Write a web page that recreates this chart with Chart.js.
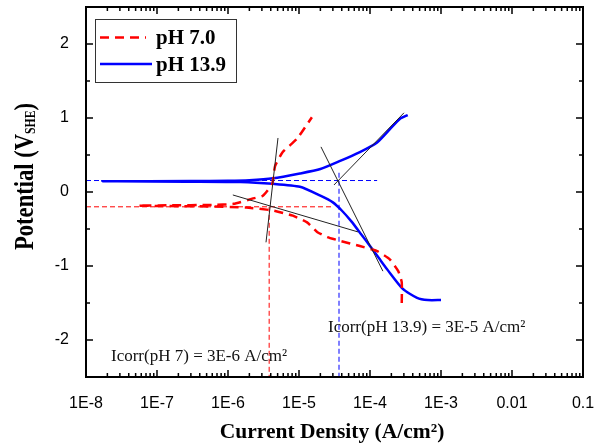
<!DOCTYPE html>
<html lang="en">
<head>
    <meta charset="UTF-8">
    <title>Polarization curves</title>
    <script src="https://cdn.jsdelivr.net/npm/chart.js"></script>
    <style>
        body { margin: 0; background: #fff; }
    </style>
</head>
<body>
    <canvas id="tafelChart" width="602" height="445"></canvas>

    <script>
        // axis ticks
        const xTicks = [1e-8, 1e-7, 1e-6, 1e-5, 1e-4, 1e-3, 1e-2, 1e-1];
        const xTickLabels = ['1E-8', '1E-7', '1E-6', '1E-5', '1E-4', '1E-3', '0.01', '0.1'];
        const yTicks = [-2, -1, 0, 1, 2];
        const yMinorTicks = [-1.5, -0.5, 0.5, 1.5];

        // pH 7.0 scan (current density A/cm2, potential V SHE)
        const ph7Current = [2.8e-4, 2.8e-4, 2.5e-4, 1.9e-4, 1.26e-4, 7.2e-5, 3.8e-5, 2.5e-5, 1.8e-5, 1.3e-5, 8.2e-6, 4.3e-6, 1.8e-6, 5e-7, 1.5e-7, 5.4e-8, 1.5e-7, 6e-7, 1.2e-6, 2.2e-6, 3.1e-6, 4.2e-6, 4.6e-6, 5.9e-6, 9.4e-6, 1.52e-5];
        const ph7Potential = [-1.50, -1.22, -1.07, -0.91, -0.80, -0.73, -0.66, -0.61, -0.54, -0.41, -0.32, -0.25, -0.21, -0.195, -0.19, -0.185, -0.18, -0.175, -0.16, -0.09, -0.05, 0.11, 0.35, 0.54, 0.72, 1.01];

        // pH 13.9 scan
        const ph139Current = [1.0e-3, 6.5e-4, 4.6e-4, 2.9e-4, 1.73e-4, 1.35e-4, 1.0e-4, 7.5e-5, 5.5e-5, 4.0e-5, 3.0e-5, 2.0e-5, 1.03e-5, 4.3e-6, 1.5e-6, 3e-7, 1.7e-8, 3e-7, 1.0e-6, 2.0e-6, 4.3e-6, 1.03e-5, 2.0e-5, 3.8e-5, 7.2e-5, 1.26e-4, 1.91e-4, 2.65e-4, 3.4e-4];
        const ph139Potential = [-1.46, -1.46, -1.43, -1.31, -1.04, -0.90, -0.73, -0.57, -0.40, -0.25, -0.14, -0.05, 0.07, 0.11, 0.135, 0.14, 0.145, 0.148, 0.152, 0.16, 0.185, 0.25, 0.31, 0.42, 0.54, 0.67, 0.85, 0.99, 1.04];

        // Tafel extrapolation lines [current, potential]
        const tafelPh7Anodic = [[5.06e-6, 0.73], [3.43e-6, -0.68]];
        const tafelPh7Cathodic = [[1.17e-6, -0.04], [6.8e-5, -0.54]];
        const tafelPh139Cathodic = [[2.04e-5, 0.61], [1.52e-4, -1.07]];
        const tafelPh139Anodic = [[3.11e-5, 0.095], [3.01e-4, 1.07]];

        // Ecorr / Icorr guide lines
        const ph7EcorrGuide = [[1e-8, -0.2], [2.9e-5, -0.2]];
        const ph7IcorrGuide = [[3.8e-6, -0.2], [3.8e-6, -2.5]];
        const ph139EcorrGuide = [[1e-8, 0.155], [1.26e-4, 0.155]];
        const ph139IcorrGuide = [[3.66e-5, 0.26], [3.66e-5, -2.5]];

        const toPoints = (xs, ys) => xs.map((x, i) => ({ x: x, y: ys[i] }));
        const pairPoints = (p) => p.map(d => ({ x: d[0], y: d[1] }));

        function guide(points, color) {
            return {
                data: pairPoints(points), showLine: true, borderColor: color,
                borderWidth: 1, borderDash: [5, 3], pointRadius: 0, tension: 0
            };
        }
        function tafel(points) {
            return {
                data: pairPoints(points), showLine: true, borderColor: '#222',
                borderWidth: 1, pointRadius: 0, tension: 0
            };
        }

        const decor = {
            id: 'decor',
            afterDraw(chart) {
                const ctx = chart.ctx;
                const a = chart.chartArea;
                const xs = chart.scales.x, ys = chart.scales.y;
                ctx.save();

                // inward ticks on all four sides
                ctx.strokeStyle = '#000';
                ctx.lineWidth = 1.5;
                ctx.beginPath();
                for (let d = -8; d < -1; d++) {
                    for (let m = 1; m < 10; m++) {
                        const px = xs.getPixelForValue(m * Math.pow(10, d));
                        const len = m === 1 ? 7 : 4;
                        ctx.moveTo(px, a.bottom); ctx.lineTo(px, a.bottom - len);
                        ctx.moveTo(px, a.top); ctx.lineTo(px, a.top + len);
                    }
                }
                const xEnd = xs.getPixelForValue(0.1);
                ctx.moveTo(xEnd, a.bottom); ctx.lineTo(xEnd, a.bottom - 7);
                ctx.moveTo(xEnd, a.top); ctx.lineTo(xEnd, a.top + 7);
                yTicks.concat(yMinorTicks).forEach(v => {
                    const py = ys.getPixelForValue(v);
                    const len = yTicks.includes(v) ? 7 : 4;
                    ctx.moveTo(a.left, py); ctx.lineTo(a.left + len, py);
                    ctx.moveTo(a.right, py); ctx.lineTo(a.right - len, py);
                });
                ctx.stroke();

                // frame
                ctx.lineWidth = 2;
                ctx.strokeRect(a.left, a.top, a.right - a.left, a.bottom - a.top);

                // legend
                ctx.lineWidth = 1;
                ctx.strokeStyle = '#333';
                ctx.strokeRect(95.5, 19.5, 141, 63);
                ctx.lineWidth = 2.5;
                ctx.strokeStyle = '#ff0000';
                ctx.setLineDash([9, 6]);
                ctx.beginPath(); ctx.moveTo(100, 37.5); ctx.lineTo(146, 37.5); ctx.stroke();
                ctx.setLineDash([]);
                ctx.strokeStyle = '#0000ff';
                ctx.beginPath(); ctx.moveTo(100, 64); ctx.lineTo(152, 64); ctx.stroke();
                ctx.fillStyle = '#000';
                ctx.font = 'bold 21px "Liberation Serif"';
                ctx.textAlign = 'left';
                ctx.textBaseline = 'alphabetic';
                ctx.fillText('pH 7.0', 156, 44);
                ctx.fillText('pH 13.9', 156, 71);

                // annotations
                ctx.font = '17px "Liberation Serif"';
                ctx.fillStyle = '#111';
                ctx.fillText('Icorr(pH 7) = 3E-6 A/cm\u00b2', 111, 361);
                ctx.fillText('Icorr(pH 13.9) = 3E-5 A/cm\u00b2', 328, 332);

                // x title
                ctx.fillStyle = '#000';
                ctx.font = 'bold 21.5px "Liberation Serif"';
                ctx.textAlign = 'center';
                ctx.fillText('Current Density (A/cm\u00b2)', 332, 438);

                // y title with subscript
                ctx.textAlign = 'left';
                const mainFont = 'bold 27px "Liberation Serif"';
                const subFont = 'bold 14px "Liberation Serif"';
                ctx.font = mainFont;
                const wMain = ctx.measureText('Potential (V').width;
                const wClose = ctx.measureText(')').width;
                ctx.font = subFont;
                const wSub = ctx.measureText('SHE').width;
                const sx = 147 / (wMain + wSub + wClose);
                ctx.translate(33, 250);
                ctx.rotate(-Math.PI / 2);
                ctx.scale(sx, 1);
                ctx.font = mainFont;
                ctx.fillText('Potential (V', 0, 0);
                ctx.fillText(')', wMain + wSub, 0);
                ctx.font = subFont;
                ctx.fillText('SHE', wMain, 2);

                ctx.restore();
            }
        };

        new Chart(document.getElementById('tafelChart'), {
            type: 'scatter',
            data: {
                datasets: [
                    tafel(tafelPh7Anodic),
                    tafel(tafelPh7Cathodic),
                    tafel(tafelPh139Cathodic),
                    tafel(tafelPh139Anodic),
                    {
                        label: 'pH 7.0',
                        data: toPoints(ph7Current, ph7Potential),
                        showLine: true, borderColor: '#ff0000', borderWidth: 2.5,
                        borderDash: [9, 6], pointRadius: 0, tension: 0.15
                    },
                    {
                        label: 'pH 13.9',
                        data: toPoints(ph139Current, ph139Potential),
                        showLine: true, borderColor: '#0000ff', borderWidth: 2.5,
                        pointRadius: 0, tension: 0.2
                    },
                    guide(ph7EcorrGuide, '#ff0000'),
                    guide(ph7IcorrGuide, '#ff0000'),
                    guide(ph139EcorrGuide, '#0000ff'),
                    guide(ph139IcorrGuide, '#0000ff')
                ]
            },
            options: {
                responsive: false,
                animation: false,
                layout: { padding: { left: 0, right: 19, top: 7, bottom: 0 } },
                plugins: { legend: { display: false }, tooltip: { enabled: false } },
                scales: {
                    x: {
                        type: 'logarithmic',
                        min: 1e-8,
                        max: 0.1,
                        grid: { display: false },
                        border: { display: false },
                        afterBuildTicks: (s) => { s.ticks = xTicks.map(v => ({ value: v })); },
                        afterFit: (s) => { s.height = 68; s.paddingLeft = 0; s.paddingRight = 0; },
                        ticks: {
                            padding: 9,
                            color: '#000',
                            font: { family: 'Liberation Sans', size: 16 },
                            maxRotation: 0,
                            autoSkip: false,
                            callback: (v, i) => xTickLabels[i]
                        }
                    },
                    y: {
                        min: -2.5,
                        max: 2.5,
                        grid: { display: false },
                        border: { display: false },
                        afterBuildTicks: (s) => { s.ticks = yTicks.map(v => ({ value: v })); },
                        afterFit: (s) => { s.width = 86; s.paddingTop = 0; s.paddingBottom = 0; },
                        ticks: {
                            padding: 9,
                            color: '#000',
                            font: { family: 'Liberation Sans', size: 16 },
                            callback: (v) => String(v)
                        }
                    }
                }
            },
            plugins: [decor]
        });
    </script>
</body>
</html>
